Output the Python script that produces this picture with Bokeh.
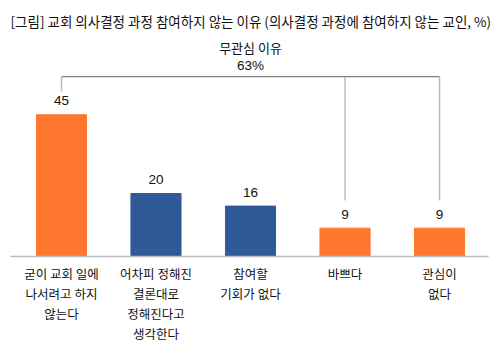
from bokeh.plotting import figure
from bokeh.models import ColumnDataSource, Range1d, Label
from bokeh.core.properties import value
from bokeh.embed import file_html
from bokeh.resources import INLINE

categories = ["굳이 교회 일에\n나서려고 하지\n않는다",
              "어차피 정해진\n결론대로\n정해진다고\n생각한다",
              "참여할\n기회가 없다",
              "바쁘다",
              "관심이\n없다"]
values = [45, 20, 16, 9, 9]
groups = ["무관심", "기타", "기타", "무관심", "무관심"]
title_text = "[그림] 교회 의사결정 과정 참여하지 않는 이유 (의사결정 과정에 참여하지 않는 교인, %)"
bracket_label = "무관심 이유"

ORANGE = "#FF762E"
BLUE = "#2E5A98"
FONT = "Noto Sans CJK KR"
NUM_FONT = "Liberation Sans"

xs = list(range(len(categories)))
colors = [ORANGE if g == "무관심" else BLUE for g in groups]

p = figure(width=501, height=353, output_backend="svg", toolbar_location=None,
           x_range=Range1d(-0.6455, 4.656), y_range=Range1d(-30.79, 81.27),
           min_border=0, outline_line_color=None)
p.axis.visible = False
p.grid.visible = False
p.background_fill_color = "white"
p.border_fill_color = "white"

src = ColumnDataSource(dict(x=xs, top=values, color=colors,
                            lab=[str(v) for v in values]))
p.vbar(x="x", top="top", width=0.53, bottom=0, color="color", source=src)

# baseline axis line
p.segment(x0=[-0.54], y0=[0], x1=[4.52], y1=[0], line_color="#BBBBBB", line_width=1.5)

# value labels
p.text(x="x", y="top", text="lab", source=src, text_align="center",
       text_baseline="middle", y_offset=-14, text_font=value(NUM_FONT),
       text_font_size="13.5px", text_color="#111111")

# category labels (multi-line)
lx, ly, lt = [], [], []
for i, c in enumerate(categories):
    for j, line in enumerate(c.split("\n")):
        lx.append(i)
        ly.append(j)
        lt.append(line)
csrc = ColumnDataSource(dict(x=lx, y=[0] * len(lx), t=lt,
                             off=[17 + 20 * j for j in ly]))
p.text(x="x", y="y", text="t", y_offset="off", source=csrc, text_align="center",
       text_baseline="middle", text_font=value(FONT), text_font_size="12.5px",
       text_color="#111111")

# bracket for 무관심 group
idx = [i for i, g in enumerate(groups) if g == "무관심"]
total = sum(values[i] for i in idx)
bracket_y = 57.1
p.segment(x0=[min(idx)], y0=[bracket_y], x1=[max(idx)], y1=[bracket_y],
          line_color="#808080", line_width=1.2)
p.segment(x0=idx, y0=[bracket_y] * len(idx), x1=idx,
          y1=[values[i] + (7.4 if values[i] > 30 else 8.8) for i in idx],
          line_color="#BBBBBB", line_width=1.5)
p.text(x=[2.0], y=[66.3], text=[bracket_label],
       text_align="center", text_baseline="middle", text_font=value(FONT),
       text_font_size="13px", text_color="#111111")
p.text(x=[2.0], y=[60.6], text=[f"{total}%"],
       text_align="center", text_baseline="middle", text_font=value(NUM_FONT),
       text_font_size="13.5px", text_color="#111111")

p.add_layout(Label(x=10, y=353 - 20, x_units="screen", y_units="screen",
                   text=title_text, text_align="left", text_baseline="middle",
                   text_font=FONT, text_font_size="13.5px", text_color="#111111"))

open("out.html", "w").write(file_html(p, INLINE))
